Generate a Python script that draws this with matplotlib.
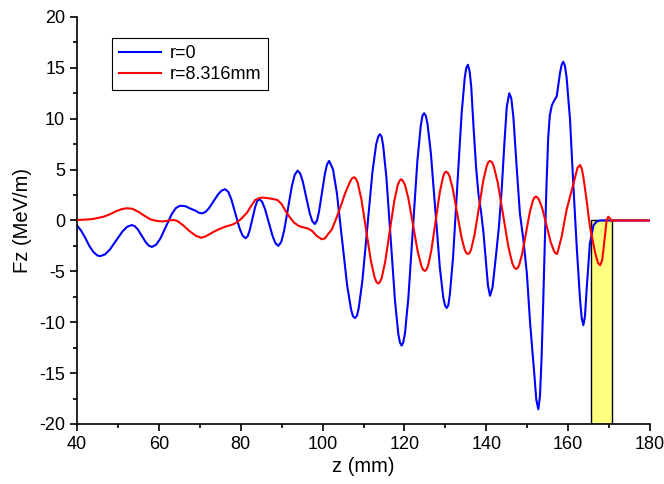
import matplotlib
matplotlib.use("Agg")
import matplotlib.pyplot as plt
from matplotlib.ticker import MultipleLocator

plt.rcParams["font.family"] = ["Liberation Sans", "DejaVu Sans"]
plt.rcParams["axes.unicode_minus"] = False

# r = 0
blue_z = [40, 41, 42, 43, 44, 45, 45.7, 46.86, 48.0, 49.55, 51.1, 52.25, 53.4, 54.14, 54.87,
          55.85, 56.83, 57.57, 58.3, 59.34, 60.37, 61.75, 63.13, 64.17, 65.2, 66.5, 67.5, 68.1,
          69.0, 69.8, 70.5, 71.36, 72.21, 73.35, 74.49, 75.35, 76.2, 76.95, 77.7, 78.7, 79.7,
          80.45, 81.2, 81.7, 82.19, 82.85, 83.51, 84.0, 84.5, 85.2, 85.91, 86.85, 87.79, 88.5,
          89.2, 89.9, 90.61, 91.55, 92.49, 93.2, 93.9, 94.53, 95.16, 96.0, 96.84, 97.47, 98.1,
          98.63, 99.15, 99.85, 100.55, 101.08, 101.6, 102.55, 103.49, 104.75, 106.01, 106.96,
          107.4, 107.9, 108.4, 108.82, 109.73, 110.95, 112.17, 113.09, 113.6, 114.0, 114.4,
          114.8, 115.59, 116.65, 117.71, 118.5, 118.9, 119.3, 119.7, 120.13, 120.95, 122.05,
          123.15, 123.98, 124.4, 124.8, 125.2, 125.63, 126.45, 127.55, 128.65, 129.48, 129.9,
          130.3, 130.7, 131.08, 131.86, 132.9, 133.94, 134.72, 135.1, 135.5, 135.9, 136.3, 136.9,
          137.5, 138.1, 138.7, 139.3, 139.9, 140.4, 140.9, 141.5, 142.0, 142.5, 143.1, 143.75,
          144.4, 145.0, 145.6, 146.1, 146.6, 147.4, 148.2, 149.05, 149.9, 150.7, 151.7, 152.2,
          152.7, 153.1, 153.5, 153.9, 154.3, 154.7, 155.1, 155.5, 156.0, 156.6, 157.2, 158.0,
          158.4, 158.8, 159.2, 159.6, 160.45, 161.25, 162.1, 162.9, 163.3, 163.7, 164.1, 164.5,
          165.3, 166.2, 167.0, 167.8, 180]
blue_fz = [-0.5, -1.0, -1.7, -2.5, -3.1, -3.45, -3.5, -3.33, -2.87, -1.98, -1.08, -0.62, -0.45,
           -0.57, -0.89, -1.53, -2.16, -2.48, -2.6, -2.38, -1.77, -0.58, 0.62, 1.23, 1.45, 1.4,
           1.2, 1.1, 0.95, 0.75, 0.7, 0.83, 1.19, 1.89, 2.58, 2.94, 3.07, 2.81, 2.08, 0.66, -0.76,
           -1.49, -1.75, -1.54, -0.96, 0.18, 1.31, 1.89, 2.1, 1.85, 1.15, -0.2, -1.55, -2.25,
           -2.5, -2.1, -0.98, 1.2, 3.38, 4.5, 4.9, 4.61, 3.82, 2.28, 0.73, -0.06, -0.35, -0.01,
           0.93, 2.75, 4.57, 5.51, 5.85, 5.01, 2.67, -1.88, -6.42, -8.76,
           -9.4, -9.6, -9.35, -8.62, -5.88, -0.57, 4.75, 7.49, 8.25, 8.47, 8.25,
           7.34, 4.19, -1.92, -8.02, -11.17, -12.0, -12.3, -12.0, -11.06, -7.6, -0.88,
           5.84, 9.3, 10.3, 10.54, 10.3, 9.5, 6.6, 0.97, -4.66, -7.56, -8.35,
           -8.6, -8.35, -7.3, -3.68, 3.35, 10.38, 14.0, 15.0, 15.3, 14.7, 13.2, 9.0,
           5.2, 2.5, 0.9, -1.2, -4.0, -6.4, -7.4, -6.6, -4.8, -2.9, -0.5, 3.0,
           7.5, 11.2, 12.5, 12.0, 10.2, 5.3, 0.7, -1.9, -5.2, -10.1, -15.0, -17.6,
           -18.55, -17.3, -13.5, -8.0, -2.0, 3.5, 8.0, 10.3, 11.3, 11.8, 12.2, 14.5,
           15.3, 15.6, 15.2, 14.1, 9.9, 3.5, -2.7, -7.8, -9.6, -10.3, -9.4, -6.8,
           -2.25, -0.45, -0.1, 0.0, 0.0]

# r = 8.316 mm
red_z = [40, 42, 44, 46.5, 48, 49.5, 51, 52.2, 53.5, 55, 56.5, 58, 59.5, 61, 62.5, 63.6, 64.5,
         66, 67.5, 69, 70.3, 71.5, 73, 74.7, 76.3, 78, 79.2, 80.2, 81.5, 82.5, 83.5, 84.5, 85.3,
         86.5, 88, 89, 90, 91, 92, 93, 94.2, 95.5, 96.5, 97.5, 98.5, 99.8, 100.6, 101.4, 102.2,
         103.0, 103.8, 104.6, 105.5, 106.7, 107.2, 107.7, 108.15, 108.59, 109.47, 110.65,
         111.83, 112.72, 113.15, 113.6, 114.0, 114.44, 115.28, 116.4, 117.52, 118.36, 118.8,
         119.2, 119.6, 120.07, 120.94, 122.1, 123.26, 124.13, 124.55, 125.0, 125.4, 125.78,
         126.56, 127.6, 128.64, 129.42, 129.8, 130.2, 130.6, 130.99, 131.79, 132.85, 133.91,
         134.7, 135.1, 135.5, 135.9, 136.31, 137.12, 138.2, 139.28, 140.09, 140.5, 140.9,
         141.4, 141.86, 142.82, 144.1, 145.38, 146.34, 146.8, 147.3, 147.7, 148.02, 148.74,
         149.7, 150.66, 151.38, 151.75, 152.1, 152.5, 152.88, 153.66, 154.7, 155.74, 156.52,
         156.9, 157.3, 158.4, 159.6, 160.45, 161.7, 162.3, 162.9, 163.3, 163.7, 164.5, 165.3,
         166.6, 167.3, 167.8, 168.3, 168.6, 169.4, 169.8, 170.2, 170.5, 171, 180]
red_fz = [0.05, 0.08, 0.15, 0.37, 0.6, 0.9, 1.12, 1.2, 1.15, 0.85, 0.45, 0.1, -0.05, -0.1, 0.0,
          0.05, -0.05, -0.5, -1.05, -1.5, -1.7, -1.55, -1.2, -0.85, -0.6, -0.4, -0.15, 0.2, 0.75,
          1.4, 2.0, 2.2, 2.25, 2.2, 2.1, 2.0, 1.6, 0.9, 0.3, -0.2, -0.55, -0.7, -0.8, -1.05, -1.5,
          -1.85, -1.75, -1.3, -0.93, -0.15, 0.7, 1.6, 2.67, 3.8, 4.15, 4.25, 4.1, 3.68, 2.1,
          -0.98, -4.05, -5.63, -6.05, -6.2, -6.05, -5.64, -4.09, -1.08, 1.94, 3.49, 3.9,
          4.05, 3.9, 3.56, 2.19, -0.46, -3.1, -4.47, -4.85, -4.96, -4.8, -4.43,
          -2.95, -0.08, 2.79, 4.27, 4.68, 4.8, 4.68, 4.36, 3.13, 0.75, -1.63,
          -2.86, -3.2, -3.3, -3.2, -2.8, -1.42, 1.28, 3.97, 5.35, 5.75, 5.85,
          5.72, 5.27, 3.66, 0.54, -2.58, -4.19, -4.62, -4.77, -4.65, -4.38, -3.3,
          -1.21, 0.88, 1.96, 2.25, 2.35, 2.25, 2.04, 1.19, -0.48, -2.14, -2.99,
          -3.22, -3.3, -1.6, 1.03, 2.35, 4.3, 5.2, 5.45, 5.1, 4.3, 2.0, -0.6,
          -3.2, -4.2, -4.4, -3.9, -2.9, 0.05, 0.37, 0.2, -0.05, 0.0, 0.0]

labels = ["r=0", "r=8.316mm"]

# highlighted region
box_start = 165.6
box_end = 170.6
box_bottom = -20

fig = plt.figure(figsize=(6.64, 4.84), dpi=100)
ax = fig.add_axes([0.116, 0.124, 0.863, 0.841])

ax.bar(box_start, box_bottom, width=box_end - box_start, bottom=0, align="edge",
       color="#ffff80", edgecolor="black", linewidth=1.0, zorder=1)
ax.plot(blue_z, blue_fz, color="#0000ff", lw=1.5, label=labels[0], zorder=2)
ax.plot(red_z, red_fz, color="#ff0000", lw=1.5, label=labels[1], zorder=3)

ax.set_xlim(40, 180)
ax.set_ylim(-20, 20)
ax.xaxis.set_major_locator(MultipleLocator(20))
ax.xaxis.set_minor_locator(MultipleLocator(10))
ax.yaxis.set_major_locator(MultipleLocator(5))
ax.yaxis.set_minor_locator(MultipleLocator(2.5))
ax.tick_params(which="major", direction="out", length=5, width=1.2, labelsize=13)
ax.tick_params(which="minor", direction="out", length=3, width=1.2)
for s in ["top", "right"]:
    ax.spines[s].set_visible(False)
for s in ["left", "bottom"]:
    ax.spines[s].set_linewidth(1.2)

ax.set_xlabel("z (mm)", fontsize=14.5, labelpad=3)
ax.set_ylabel("Fz (MeV/m)", fontsize=14.5, labelpad=5)

leg = ax.legend(loc="upper left", bbox_to_anchor=(0.061, 0.948), borderaxespad=0,
                fancybox=False, framealpha=1, edgecolor="black", fontsize=13,
                handlelength=2.3, handletextpad=0.5, labelspacing=0.2, borderpad=0.4)
leg.get_frame().set_linewidth(0.8)

fig.savefig("out.png", dpi=100)
